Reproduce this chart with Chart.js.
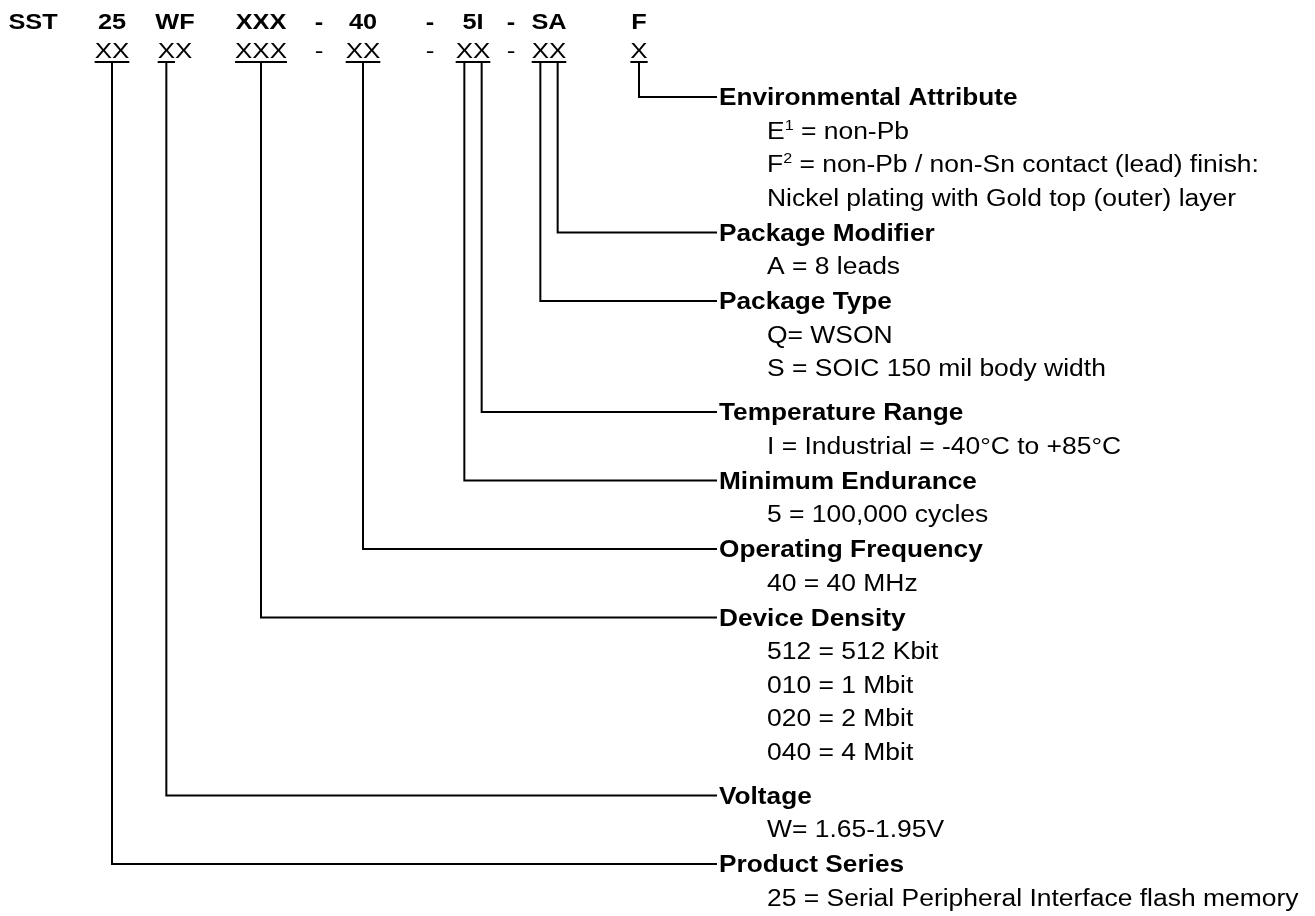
<!DOCTYPE html>
<html><head><meta charset="utf-8">
<script src="https://cdn.jsdelivr.net/npm/chart.js@4/dist/chart.umd.min.js"></script>
<style>html,body{margin:0;padding:0;background:#fff;overflow:hidden}canvas{display:block}</style>
</head><body>
<canvas id="c" width="1315" height="916"></canvas>
<script>
// ---------- data ----------
const headerTokens = ['SST','25','WF','XXX','-','40','-','5I','-','SA','F'];
const codeTokens   = ['','XX','XX','XXX','-','XX','-','XX','-','XX','X'];
const fieldTitles = ['Environmental Attribute','Package Modifier','Package Type','Temperature Range',
  'Minimum Endurance','Operating Frequency','Device Density','Voltage','Product Series'];
const fieldDescriptions = [
  ['E^1 = non-Pb','F^2 = non-Pb / non-Sn contact (lead) finish:','Nickel plating with Gold top (outer) layer'],
  ['A = 8 leads'],
  ['Q= WSON','S = SOIC 150 mil body width'],
  ['I = Industrial = -40°C to +85°C'],
  ['5 = 100,000 cycles'],
  ['40 = 40 MHz'],
  ['512 = 512 Kbit','010 = 1 Mbit','020 = 2 Mbit','040 = 4 Mbit'],
  ['W= 1.65-1.95V'],
  ['25 = Serial Peripheral Interface flash memory']
];
const fieldToken = [10,9,9,7,7,5,3,2,1];   // which code token each field points to
const fieldChar  = [0,1,0,1,0,-1,-1,0,-1]; // which character (-1 = whole token)

// ---------- layout / style ----------
const FAM = '"Liberation Sans", Arial, Helvetica, sans-serif';
const L = {
  colCenters: [33,112,175,261,319,363,430,473,511,549,639],
  headerY: 21, codeY: 50, underlineY: 62,
  lineEndX: 717, titleX: 719, descX: 767,
  firstTitleY: 97, lineStep: 33.5,
  gapAfter: [35,35,44,35,35,35,44,35,35],
  headerFont: {w:'bold', s:22, k:1.15},
  codeFont:   {w:'normal', s:22, k:1.18},
  titleFont:  {w:'bold', s:23, k:1.14},
  descFont:   {w:'normal', s:23, k:1.15},
  supSize: 14, supRise: 9
};
const fontStr = (f, size) => `${f.w} ${size || f.s}px ${FAM}`;

const mctx = document.createElement('canvas').getContext('2d');
function tw(str, f){ mctx.font = fontStr(f); return mctx.measureText(str).width * f.k; }

// rows
const titleY = []; const descY = [];
(function(){
  let y = L.firstTitleY;
  fieldTitles.forEach((t,i)=>{
    titleY.push(y);
    const ds = [];
    fieldDescriptions[i].forEach(()=>{ y += L.lineStep; ds.push(y); });
    descY.push(ds);
    y += L.gapAfter[i];
  });
})();

// character geometry of the code row
function charSpan(tok, ci){
  const s = codeTokens[tok];
  const left = L.colCenters[tok] - tw(s, L.codeFont)/2;
  if (ci < 0) return [left, left + tw(s, L.codeFont)];
  const a = left + tw(s.slice(0,ci), L.codeFont);
  return [a, a + tw(s[ci], L.codeFont)];
}

// underline ranges = union of referenced chars per token
const underlineSpans = {};
fieldToken.forEach((tok,i)=>{
  const sp = charSpan(tok, fieldChar[i]);
  if (!underlineSpans[tok]) underlineSpans[tok] = sp.slice();
  else { underlineSpans[tok][0] = Math.min(underlineSpans[tok][0], sp[0]); underlineSpans[tok][1] = Math.max(underlineSpans[tok][1], sp[1]); }
});

const datasets = [];
const lineStyle = {showLine:true, borderColor:'#000', backgroundColor:'#000', borderWidth:2, pointRadius:0, pointHoverRadius:0, fill:false, tension:0, borderCapStyle:'butt', borderJoinStyle:'miter'};
Object.keys(underlineSpans).forEach(tok=>{
  const sp = underlineSpans[tok];
  datasets.push(Object.assign({label:'u'+tok, data:[{x:sp[0],y:L.underlineY},{x:sp[1],y:L.underlineY}]}, lineStyle));
});
fieldTitles.forEach((t,i)=>{
  const sp = charSpan(fieldToken[i], fieldChar[i]);
  const cx = (sp[0]+sp[1])/2;
  datasets.push(Object.assign({label:t, data:[{x:cx,y:L.underlineY},{x:cx,y:titleY[i]},{x:L.lineEndX,y:titleY[i]}]}, lineStyle));
});

// text drawing
function drawRich(ctx, str, px, py, f, align){
  const parts = [];
  str.split(/(\^\d)/).forEach(p=>{ if(!p) return; if(p[0]==='^') parts.push({t:p.slice(1),sup:true}); else parts.push({t:p}); });
  let total = 0;
  parts.forEach(p=>{ ctx.font = p.sup ? fontStr(f, L.supSize) : fontStr(f); p.w = ctx.measureText(p.t).width * f.k; total += p.w; });
  let x = align==='center' ? px - total/2 : px;
  const base = py + 0.358*f.s;
  parts.forEach(p=>{
    ctx.save();
    ctx.font = p.sup ? fontStr(f, L.supSize) : fontStr(f);
    ctx.translate(x, p.sup ? base - L.supRise : base);
    ctx.scale(f.k, 1);
    ctx.fillStyle = '#000'; ctx.textBaseline = 'alphabetic'; ctx.textAlign = 'left';
    ctx.fillText(p.t, 0, 0);
    ctx.restore();
    x += p.w;
  });
}

const textPlugin = {
  id:'partText',
  afterDatasetsDraw(chart){
    const ctx = chart.ctx, xs = chart.scales.x, ys = chart.scales.y;
    headerTokens.forEach((t,i)=> drawRich(ctx, t, xs.getPixelForValue(L.colCenters[i]), ys.getPixelForValue(L.headerY), L.headerFont, 'center'));
    codeTokens.forEach((t,i)=>{ if(t) drawRich(ctx, t, xs.getPixelForValue(L.colCenters[i]), ys.getPixelForValue(L.codeY), L.codeFont, 'center'); });
    fieldTitles.forEach((t,i)=>{
      drawRich(ctx, t, xs.getPixelForValue(L.titleX), ys.getPixelForValue(titleY[i]), L.titleFont, 'left');
      fieldDescriptions[i].forEach((d,j)=> drawRich(ctx, d, xs.getPixelForValue(L.descX), ys.getPixelForValue(descY[i][j]), L.descFont, 'left'));
    });
  }
};

new Chart(document.getElementById('c').getContext('2d'), {
  type:'scatter',
  data:{datasets},
  options:{
    responsive:false, animation:false, devicePixelRatio:1,
    layout:{padding:0},
    events:[],
    scales:{
      x:{type:'linear', min:0, max:1315, display:false},
      y:{type:'linear', min:0, max:916, reverse:true, display:false}
    },
    plugins:{legend:{display:false}, tooltip:{enabled:false}}
  },
  plugins:[textPlugin]
});
</script>
</body></html>
